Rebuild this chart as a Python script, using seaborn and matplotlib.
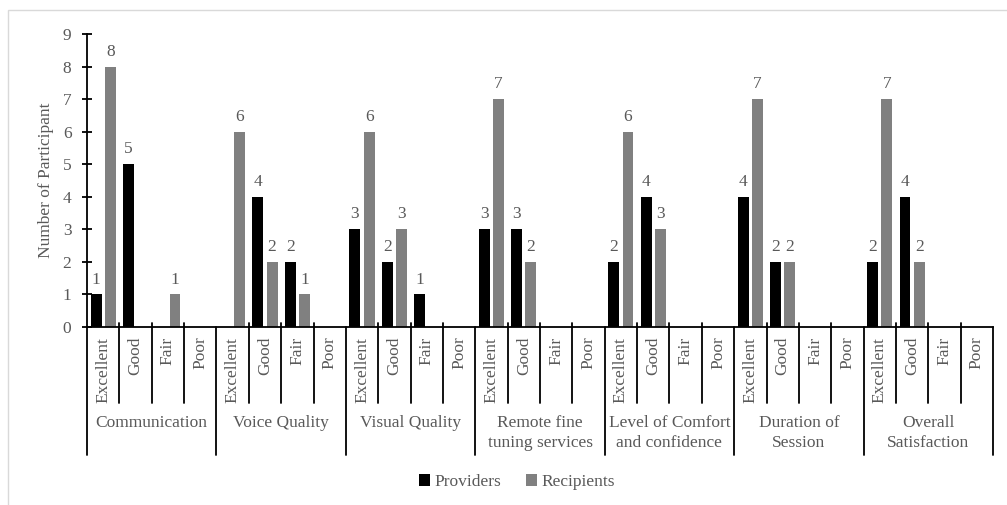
import matplotlib
matplotlib.use("Agg")
import matplotlib.pyplot as plt
import seaborn as sns
import pandas as pd
from matplotlib.patches import Rectangle

# Survey results: number of participants per rating, for each aspect
aspects = [
    "Communication",
    "Voice Quality",
    "Visual Quality",
    "Remote fine\ntuning services",
    "Level of Comfort\nand confidence",
    "Duration of\nSession",
    "Overall\nSatisfaction",
]
ratings = ["Excellent", "Good", "Fair", "Poor"]

providers = [
    [1, 5, 0, 0],
    [0, 4, 2, 0],
    [3, 2, 1, 0],
    [3, 3, 0, 0],
    [2, 4, 0, 0],
    [4, 2, 0, 0],
    [2, 4, 0, 0],
]
recipients = [
    [8, 0, 1, 0],
    [6, 2, 1, 0],
    [6, 3, 0, 0],
    [7, 2, 0, 0],
    [6, 3, 0, 0],
    [7, 2, 0, 0],
    [7, 2, 0, 0],
]
series = ["Providers", "Recipients"]
colors = ["#000000", "#808080"]

# Long-form table, one row per (aspect, rating, group)
rows = []
slots = []
for a, aspect in enumerate(aspects):
    for r, rating in enumerate(ratings):
        slot = f"{aspect}|{rating}"
        slots.append(slot)
        rows.append((slot, "Providers", providers[a][r]))
        rows.append((slot, "Recipients", recipients[a][r]))
df = pd.DataFrame(rows, columns=["slot", "group", "count"])

sns.set_theme(style="white")
plt.rcParams["font.family"] = ["Liberation Serif", "DejaVu Serif"]
text_color = "#595959"
fs = 12.5

fig = plt.figure(figsize=(10.07, 5.05), dpi=100)
ax = fig.add_axes([87 / 1007, 1 - 327 / 505, 906 / 1007, 293 / 505])

sns.barplot(
    data=df, x="slot", y="count", hue="group",
    order=slots, hue_order=series, palette=colors,
    width=0.88, gap=0.23, saturation=1, ax=ax, legend=True,
    linewidth=0,
)

# value labels on non-zero bars
for container in ax.containers:
    labels = [f"{v:g}" if v > 0 else "" for v in container.datavalues]
    ax.bar_label(container, labels=labels, padding=5, fontsize=fs, color=text_color)

ax.set_ylim(0, 9)
ax.set_yticks(range(0, 10))
ax.set_xlim(-0.5, len(slots) - 0.5)
ax.set_ylabel("Number of Participant", fontsize=fs, color=text_color, labelpad=6)
ax.set_xlabel("")

for s in ["top", "right"]:
    ax.spines[s].set_visible(False)
for s in ["left", "bottom"]:
    ax.spines[s].set_color("black")
    ax.spines[s].set_linewidth(1.3)

ax.tick_params(axis="y", direction="inout", length=6.5, width=1.3,
               labelsize=fs, labelcolor=text_color, color="black", left=True, pad=8)
ax.set_xticks(range(len(slots)))
ax.set_xticklabels([s.split("|")[1] for s in slots], rotation=90,
                   fontsize=fs, color=text_color)
ax.tick_params(axis="x", length=0, pad=7, bottom=False)

# category separators and aspect labels below the axis
xt = ax.get_xaxis_transform()
h = 293.0
for i in range(len(slots) + 1):
    x = i - 0.5
    if i % 4 == 0:
        ax.plot([x, x], [0, -128 / h], transform=xt, color="black",
                lw=1.3, clip_on=False)
    else:
        ax.plot([x, x], [4 / h, -76 / h], transform=xt, color="black",
                lw=1.3, clip_on=False)

for a, aspect in enumerate(aspects):
    center = a * 4 + 1.5
    ax.annotate(aspect, xy=(center, 0), xycoords=xt,
                xytext=(0, -(415 - 327) * 72 / 100), textcoords="offset points",
                ha="center", va="top", fontsize=fs, color=text_color,
                linespacing=1.3)

# legend below the chart
handles, labels = ax.get_legend_handles_labels()
ax.get_legend().remove()
fig.legend(handles, labels, loc="center", bbox_to_anchor=(517 / 1007, 1 - 482 / 505),
           ncol=2, frameon=False, fontsize=fs, handlelength=0.65, handleheight=0.65,
           handletextpad=0.25, columnspacing=1.4, labelcolor=text_color)

# light frame around the chart area
fig.patches.append(Rectangle((8 / 1007, -0.1), 1.2, 1 - 10 / 505 + 0.1,
                             transform=fig.transFigure, fill=False,
                             edgecolor="#d9d9d9", lw=1.0))

fig.savefig("out.png", dpi=100)
